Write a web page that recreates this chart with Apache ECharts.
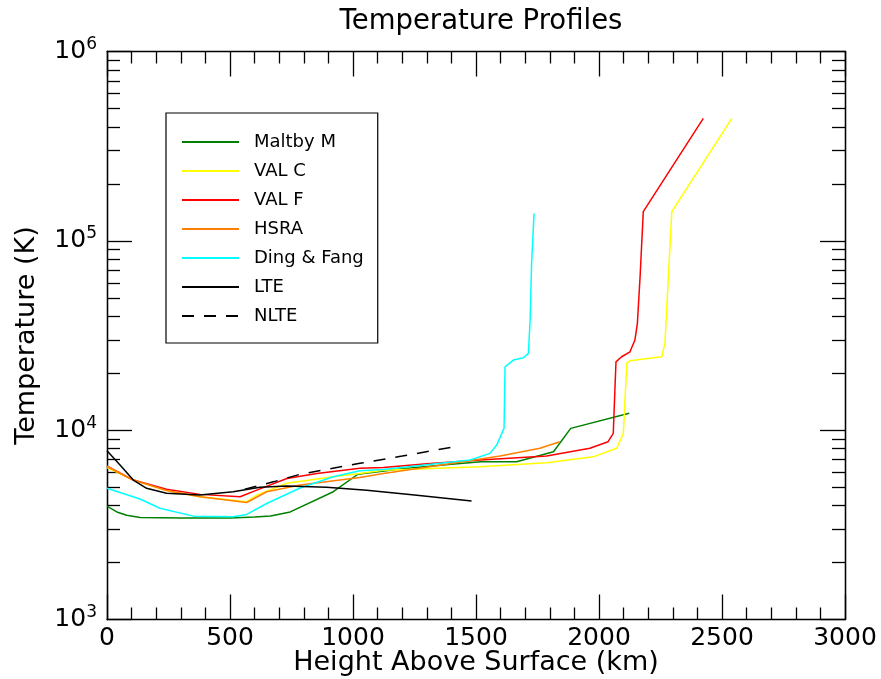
<!DOCTYPE html>
<html>
<head>
<meta charset="utf-8">
<title>Temperature Profiles</title>
<script src="https://cdn.jsdelivr.net/npm/echarts@6/dist/echarts.min.js"></script>
<style>
  html, body { margin: 0; padding: 0; background: #fff; }
  #temp-profiles { width: 881px; height: 679px; }
</style>
</head>
<body>
<div id="temp-profiles"></div>
<script>
// height above surface (km), temperature (K)
const maltbyM = [[0, 3970], [40, 3700], [80, 3550], [135, 3460], [300, 3440], [500, 3440], [600, 3480], [665, 3520], [745, 3700], [920, 4730], [1020, 5850], [1200, 6250], [1400, 6600], [1520, 6810], [1665, 6810], [1815, 7690], [1885, 10220], [2123, 12270]];
const valC = [[0, 6350], [107, 5450], [242, 4800], [378, 4450], [568, 4190], [609, 4540], [731, 5240], [920, 5670], [1028, 5910], [1123, 6150], [1516, 6410], [1787, 6720], [1977, 7230], [2072, 8020], [2099, 9620], [2113, 22540], [2126, 23280], [2255, 24420], [2268, 28730], [2282, 64600], [2296, 142600], [2540, 443800]];
const valF = [[0, 6450], [107, 5450], [242, 4870], [378, 4580], [541, 4450], [609, 4820], [731, 5560], [853, 5910], [1028, 6290], [1123, 6360], [1300, 6650], [1516, 6950], [1787, 7300], [1963, 8020], [2037, 8690], [2058, 9620], [2069, 22960], [2092, 24420], [2126, 25940], [2146, 29930], [2156, 36660], [2167, 64600], [2180, 142600], [2424, 443800]];
const hsra = [[0, 6450], [107, 5450], [242, 4800], [378, 4450], [568, 4150], [649, 4730], [785, 5140], [1028, 5620], [1123, 5910], [1326, 6450], [1598, 7300], [1760, 8020], [1841, 8690]];
const dingFang = [[0, 4930], [134, 4330], [215, 3870], [351, 3515], [513, 3486], [568, 3590], [649, 4100], [785, 4950], [920, 5670], [1028, 6110], [1123, 6200], [1476, 6950], [1557, 7540], [1584, 8340], [1614, 10220], [1618, 21600], [1652, 23450], [1692, 24100], [1713, 25450], [1720, 38200], [1726, 76000], [1736, 139700]];
const lte = [[0, 7780], [53, 6550], [107, 5450], [161, 4930], [242, 4640], [378, 4540], [513, 4730], [622, 4990], [731, 5070], [893, 5000], [1056, 4820], [1250, 4550], [1482, 4220]];
const nlte = [[560, 4880], [680, 5350], [785, 5850], [1028, 6680], [1200, 7300], [1435, 8270]];

const decadeTicks = [1e3, 1e4, 1e5, 1e6];
const minorTicks = [2e3, 3e3, 4e3, 5e3, 6e3, 7e3, 8e3, 9e3, 2e4, 3e4, 4e4, 5e4, 6e4, 7e4, 8e4, 9e4, 2e5, 3e5, 4e5, 5e5, 6e5, 7e5, 8e5, 9e5];

const font = "DejaVu Sans";
const axisLine = { show: true, onZero: false, lineStyle: { color: "#000", width: 1.3 } };

function yAxisDef(pos, major, withLabel) {
  return {
    type: "log",
    logBase: 10,
    min: 1000,
    max: 1000000,
    position: pos,
    axisLine: axisLine,
    splitLine: { show: false },
    axisTick: {
      show: true,
      inside: true,
      length: major ? 25 : 13,
      customValues: major ? decadeTicks : minorTicks,
      lineStyle: { color: "#000", width: 1.3 }
    },
    axisLabel: withLabel ? {
      show: true,
      customValues: decadeTicks,
      margin: 10,
      formatter: function (v) {
        return "{b|10}{s|" + Math.round(Math.log10(v)) + "}";
      },
      rich: {
        b: { fontFamily: font, fontSize: 25, color: "#000" },
        s: { fontFamily: font, fontSize: 17, color: "#000", padding: [0, 0, 14, 0] }
      }
    } : { show: false },
    name: withLabel ? "Temperature (K)" : "",
    nameLocation: "middle",
    nameGap: 67,
    nameMoveOverlap: false,
    nameTextStyle: { fontFamily: font, fontSize: 27, color: "#000" }
  };
}

function xAxisDef(pos, withLabel) {
  return {
    type: "value",
    min: 0,
    max: 3000,
    interval: 500,
    position: pos,
    axisLine: axisLine,
    splitLine: { show: false },
    axisTick: { show: true, inside: true, length: 25, lineStyle: { color: "#000", width: 1.3 } },
    minorTick: { show: true, splitNumber: 5, length: 12, lineStyle: { color: "#000", width: 1.3 } },
    axisLabel: withLabel ? {
      show: true, fontFamily: font, fontSize: 25, color: "#000", margin: 6,
      formatter: function (v) { return String(v); }
    } : { show: false },
    name: withLabel ? "Height Above Surface (km)" : "",
    nameLocation: "middle",
    nameGap: 30,
    nameMoveOverlap: false,
    nameTextStyle: { fontFamily: font, fontSize: 27, color: "#000" }
  };
}

function lineSeries(name, data, color, dashed) {
  return {
    name: name,
    type: "line",
    xAxisIndex: 0,
    yAxisIndex: 0,
    data: data,
    symbol: "none",
    showSymbol: false,
    smooth: false,
    lineStyle: { color: color, width: 1.5, type: dashed ? [12, 10] : "solid" },
    itemStyle: { color: color }
  };
}

const chart = echarts.init(document.getElementById("temp-profiles"), null, { renderer: "canvas" });
chart.setOption({
  animation: false,
  backgroundColor: "#fff",
  title: {
    text: "Temperature Profiles",
    left: 476,
    textAlign: "center",
    top: 3,
    textStyle: { fontFamily: font, fontSize: 27.5, fontWeight: "normal", color: "#000" }
  },
  grid: { left: 107, right: 36, top: 51.5, bottom: 59.5, containLabel: false, outerBoundsMode: "none" },
  legend: {
    orient: "vertical",
    left: 166,
    top: 113,
    padding: [20, 14, 18, 15],
    itemWidth: 57,
    itemHeight: 14,
    itemGap: 11,
    selectedMode: false,
    borderColor: "#000",
    borderWidth: 1.2,
    itemStyle: { opacity: 0 },
    textStyle: { fontFamily: font, fontSize: 18, color: "#000", padding: [0, 0, 0, 10] },
    data: ["Maltby M", "VAL C", "VAL F", "HSRA", "Ding & Fang", "LTE", "NLTE"]
  },
  xAxis: [xAxisDef("bottom", true), xAxisDef("top", false)],
  yAxis: [yAxisDef("left", true, true), yAxisDef("left", false, false), yAxisDef("right", true, false), yAxisDef("right", false, false)],
  series: [
    lineSeries("Maltby M", maltbyM, "#008000", false),
    lineSeries("VAL C", valC, "#ffff00", false),
    lineSeries("VAL F", valF, "#ff0000", false),
    lineSeries("HSRA", hsra, "#ff8000", false),
    lineSeries("Ding & Fang", dingFang, "#00ffff", false),
    lineSeries("LTE", lte, "#000000", false),
    lineSeries("NLTE", nlte, "#000000", true)
  ]
});
</script>
</body>
</html>
